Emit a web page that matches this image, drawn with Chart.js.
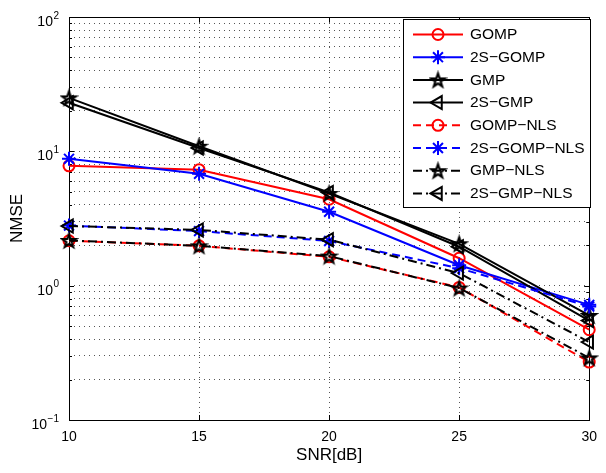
<!DOCTYPE html>
<html><head><meta charset="utf-8">
<script src="https://cdn.jsdelivr.net/npm/chart.js@4.4.0/dist/chart.umd.min.js"></script>
<style>html,body{margin:0;padding:0;background:#fff;}#wrap{width:606px;height:473px;}</style>
</head><body><div id="wrap"><canvas id="c" width="606" height="473"></canvas></div>
<script>
// ---- data ----
const snr = [10, 15, 20, 25, 30];
const gomp        = [7.8, 7.3, 4.4, 1.6, 0.47];
const twoSGomp    = [8.8, 6.8, 3.55, 1.42, 0.72];
const gmp         = [25, 10.9, 4.85, 2.05, 0.6];
const twoSGmp     = [23, 10.6, 4.95, 1.95, 0.55];
const gompNls     = [2.16, 1.98, 1.64, 0.97, 0.27];
const twoSGompNls = [2.8, 2.55, 2.15, 1.35, 0.7];
const gmpNls      = [2.17, 1.98, 1.66, 0.96, 0.29];
const twoSGmpNls  = [2.78, 2.6, 2.2, 1.24, 0.38];
const seriesNames = ['GOMP', '2S\u2212GOMP', 'GMP', '2S\u2212GMP', 'GOMP\u2212NLS', '2S\u2212GOMP\u2212NLS', 'GMP\u2212NLS', '2S\u2212GMP\u2212NLS'];
const xTicks = [10, 15, 20, 25, 30];
const yTickExponents = [-1, 0, 1, 2];
const xTitle = 'SNR[dB]';
const yTitle = 'NMSE';

const FONT = '"Liberation Sans", Arial, Helvetica, sans-serif';

function makePentagram(size, color) {
  const c = document.createElement('canvas');
  c.width = size; c.height = size;
  const g = c.getContext('2d');
  g.strokeStyle = color; g.lineWidth = 2.2; g.lineJoin = 'miter';
  const cx = size / 2, cy = size / 2 + 0.7, R = size / 2 - 2.5, r = R * 0.4;
  g.beginPath();
  for (let i = 0; i < 10; i++) {
    const a = -Math.PI / 2 + i * Math.PI / 5;
    const rad = (i % 2) ? r : R;
    g.lineTo(cx + rad * Math.cos(a), cy + rad * Math.sin(a));
  }
  g.closePath(); g.stroke();
  return c;
}
const penta = makePentagram(19, '#000');

const RED = '#ff0000', BLUE = '#0000ff', BLACK = '#000000';
const DASH = [8, 5], DASHDOT = [9, 4, 2, 4];
const styles = [
  {color: RED,   dash: [],      ps: 'circle',   r: 5.5, rot: 0},
  {color: BLUE,  dash: [],      ps: 'star',     r: 7,   rot: 0},
  {color: BLACK, dash: [],      ps: penta,      r: 8,   rot: 0},
  {color: BLACK, dash: [],      ps: 'triangle', r: 7.5, rot: -90},
  {color: RED,   dash: DASH,    ps: 'circle',   r: 5.5, rot: 0},
  {color: BLUE,  dash: DASH,    ps: 'star',     r: 7,   rot: 0},
  {color: BLACK, dash: DASHDOT, ps: penta,      r: 8,   rot: 0},
  {color: BLACK, dash: DASHDOT, ps: 'triangle', r: 7.5, rot: -90}
];
const values = [gomp, twoSGomp, gmp, twoSGmp, gompNls, twoSGompNls, gmpNls, twoSGmpNls];

const datasets = values.map((arr, i) => ({
  label: seriesNames[i],
  data: snr.map((x, j) => ({x: x, y: arr[j]})),
  borderColor: styles[i].color,
  borderWidth: 2,
  borderDash: styles[i].dash,
  pointStyle: styles[i].ps,
  pointRadius: styles[i].r,
  pointRotation: styles[i].rot,
  pointBorderColor: styles[i].color,
  pointBackgroundColor: 'rgba(0,0,0,0)',
  pointBorderWidth: 2,
  fill: false,
  tension: 0,
  clip: false,
  order: values.length - i
}));

const boxPlugin = {
  id: 'box',
  beforeDatasetsDraw(chart) {
    const {ctx, chartArea: a, scales} = chart;
    ctx.save();
    ctx.strokeStyle = '#000'; ctx.lineWidth = 1;
    ctx.strokeRect(Math.round(a.left) + 0.5, Math.round(a.top) + 0.5, Math.round(a.right - a.left), Math.round(a.bottom - a.top));
    ctx.beginPath();
    xTicks.forEach(v => {
      const px = Math.round(scales.x.getPixelForValue(v)) + 0.5;
      ctx.moveTo(px, a.bottom); ctx.lineTo(px, a.bottom - 5);
      ctx.moveTo(px, a.top); ctx.lineTo(px, a.top + 5);
    });
    scales.y.ticks.forEach(t => {
      const major = Math.abs(Math.log10(t.value) - Math.round(Math.log10(t.value))) < 1e-9;
      const L = major ? 5 : 3;
      const py = Math.round(scales.y.getPixelForValue(t.value)) + 0.5;
      ctx.moveTo(a.left, py); ctx.lineTo(a.left + L, py);
      ctx.moveTo(a.right, py); ctx.lineTo(a.right - L, py);
    });
    ctx.stroke();
    ctx.restore();
  },
  afterDraw(chart) {
    const {ctx, scales} = chart;
    ctx.save();
    ctx.fillStyle = '#000';
    yTickExponents.forEach(e => {
      const py = scales.y.getPixelForValue(Math.pow(10, e));
      const expStr = e < 0 ? '\u2212' + Math.abs(e) : String(e);
      ctx.font = '10px ' + FONT;
      const ew = ctx.measureText(expStr).width;
      const right = 59;
      ctx.textBaseline = 'middle';
      ctx.textAlign = 'left';
      ctx.fillText(expStr, right - ew, py - 1);
      ctx.font = '14px ' + FONT;
      ctx.textAlign = 'right';
      ctx.fillText('10', right - ew - 0.5, py + 5);
    });
    // legend
    const lx = 403, ly = 19, lw = 187, lh = 188;
    ctx.fillStyle = '#fff';
    ctx.fillRect(lx, ly, lw, lh);
    ctx.strokeStyle = '#000'; ctx.lineWidth = 1;
    ctx.strokeRect(lx + 0.5, ly + 0.5, lw, lh);
    chart.data.datasets.forEach((ds, i) => {
      const y = 34.5 + i * 22.7;
      ctx.save();
      ctx.strokeStyle = ds.borderColor; ctx.lineWidth = 2;
      ctx.setLineDash(ds.borderDash);
      ctx.beginPath(); ctx.moveTo(413, y); ctx.lineTo(463, y); ctx.stroke();
      ctx.setLineDash([]);
      ctx.fillStyle = 'rgba(0,0,0,0)';
      ctx.strokeStyle = ds.borderColor; ctx.lineWidth = 2;
      Chart.helpers.drawPoint(ctx, {pointStyle: ds.pointStyle, rotation: ds.pointRotation, radius: ds.pointRadius, borderWidth: 2}, 438, y);
      ctx.restore();
      ctx.fillStyle = '#000';
      ctx.font = '15.5px ' + FONT;
      ctx.textAlign = 'left'; ctx.textBaseline = 'middle';
      ctx.fillText(ds.label, 470, y + 0.5);
    });
    ctx.restore();
  }
};

new Chart(document.getElementById('c'), {
  type: 'line',
  data: {datasets},
  options: {
    responsive: false,
    animation: false,
    events: [],
    layout: {padding: {top: 17, right: 10, left: 0, bottom: 0}},
    plugins: {legend: {display: false}, tooltip: {enabled: false}},
    scales: {
      x: {
        type: 'linear', min: 10, max: 30,
        afterBuildTicks: s => { s.ticks = xTicks.map(v => ({value: v})); },
        afterFit: s => { s.height = 53; },
        ticks: {color: '#000', font: {family: FONT, size: 14}, padding: 9, maxRotation: 0, autoSkip: false},
        grid: {color: '#555', lineWidth: 1, drawTicks: false},
        border: {display: false, dash: [1, 4]},
        title: {display: true, text: xTitle, color: '#000', font: {family: FONT, size: 17}, padding: {top: 7, bottom: 7}}
      },
      y: {
        type: 'logarithmic', min: 0.1, max: 100,
        afterBuildTicks: s => {
          const t = [];
          yTickExponents.forEach(e => {
            for (let m = 1; m <= 9; m++) {
              const v = m * Math.pow(10, e);
              if (v <= 100 + 1e-9) t.push({value: v});
            }
          });
          s.ticks = t;
        },
        afterFit: s => { s.width = 69; },
        ticks: {display: false, autoSkip: false},
        grid: {color: '#555', lineWidth: 1, drawTicks: false},
        border: {display: false, dash: [1, 4]},
        title: {display: true, text: yTitle, color: '#000', font: {family: FONT, size: 17}, padding: {top: 7, bottom: 7}}
      }
    }
  },
  plugins: [boxPlugin]
});
</script>
</body></html>
